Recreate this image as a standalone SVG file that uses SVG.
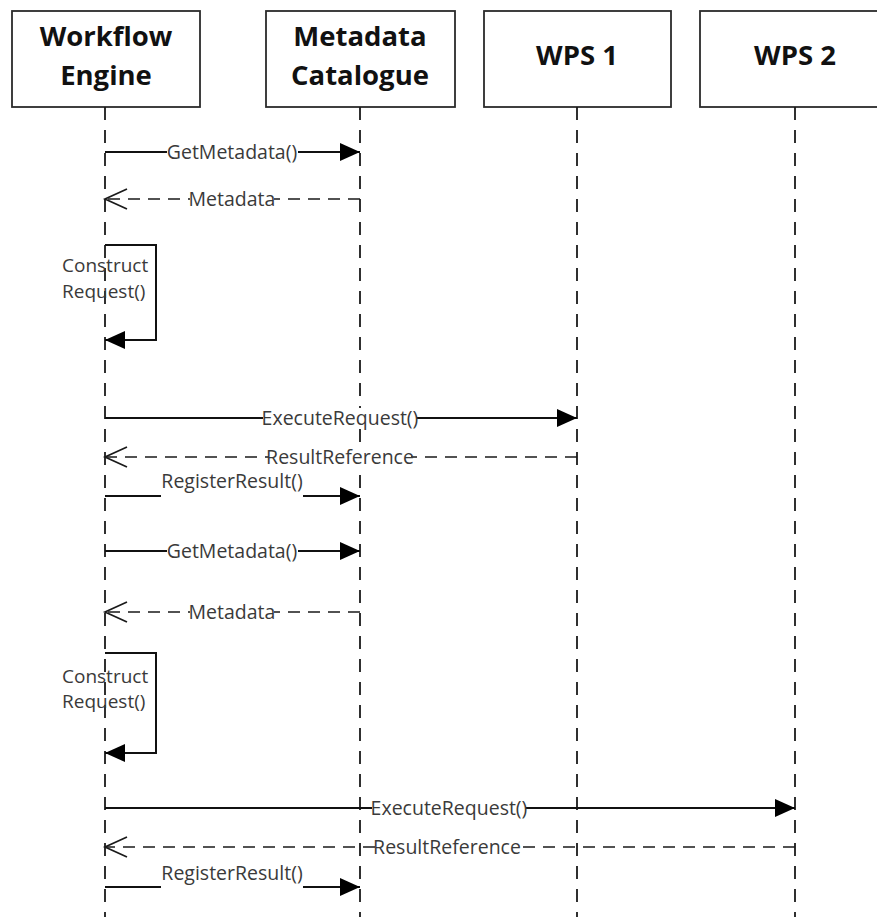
<svg xmlns="http://www.w3.org/2000/svg" width="877" height="917" viewBox="0 0 877 917">
<style>
.box{fill:#fff;stroke:#2b2b2b;stroke-width:1.8}
.life{stroke:#1a1a1a;stroke-width:1.8;stroke-dasharray:13 10;fill:none}
.hdr{font-family:"Open Sans","Noto Sans",sans-serif;font-weight:bold;font-size:27.5px;fill:#111;text-anchor:middle}
.msg{stroke:#111;stroke-width:2;fill:none}
.ret{stroke:#1a1a1a;stroke-width:1.7;fill:none;stroke-dasharray:12 8}
.lblbg{fill:#fff}
.lbl{font-family:"Open Sans","Noto Sans",sans-serif;font-size:19.5px;fill:#3a3a3a;text-anchor:middle}
.lbll{font-family:"Open Sans","Noto Sans",sans-serif;font-size:19px;fill:#3a3a3a}
</style>
<defs>
<marker id="filled" markerUnits="userSpaceOnUse" markerWidth="21" markerHeight="18" refX="20" refY="9" orient="auto" overflow="visible">
<path d="M0,0 L20,9 L0,18 z" fill="#000"/>
</marker>
<marker id="open" markerUnits="userSpaceOnUse" markerWidth="24" markerHeight="22" refX="22" refY="10" orient="auto" overflow="visible">
<path d="M0,0 L22,10 L0,20" fill="none" stroke="#1a1a1a" stroke-width="1.7"/>
</marker>
</defs>
<rect width="877" height="917" fill="#fff"/>
<g id="workflow-engine">
<rect class="box" x="12" y="11" width="188" height="96"/>
<text class="hdr" x="106" y="46">Workflow</text>
<text class="hdr" x="106" y="85">Engine</text>
<line class="life" x1="105" y1="107" x2="105" y2="917"/>
</g>
<g id="metadata-catalogue">
<rect class="box" x="266" y="11" width="189" height="96"/>
<text class="hdr" x="360" y="46">Metadata</text>
<text class="hdr" x="360" y="85">Catalogue</text>
<line class="life" x1="360" y1="107" x2="360" y2="917"/>
</g>
<g id="wps1">
<rect class="box" x="484" y="11" width="187" height="96"/>
<text class="hdr" x="577" y="65">WPS 1</text>
<line class="life" x1="577" y1="107" x2="577" y2="917"/>
</g>
<g id="wps2">
<rect class="box" x="700" y="11" width="190" height="96"/>
<text class="hdr" x="795" y="65">WPS 2</text>
<line class="life" x1="795" y1="107" x2="795" y2="917"/>
</g>
<g id="connectors">
<line class="msg" x1="105" y1="152" x2="360" y2="152" marker-end="url(#filled)"/>
<line class="ret" x1="360" y1="199" x2="105" y2="199" marker-end="url(#open)"/>
<path class="msg" d="M105,245 H156 V340 H105" marker-end="url(#filled)"/>
<line class="msg" x1="105" y1="418" x2="577" y2="418" marker-end="url(#filled)"/>
<line class="ret" x1="577" y1="457" x2="105" y2="457" marker-end="url(#open)"/>
<line class="msg" x1="105" y1="496" x2="360" y2="496" marker-end="url(#filled)"/>
<line class="msg" x1="105" y1="551" x2="360" y2="551" marker-end="url(#filled)"/>
<line class="ret" x1="360" y1="612" x2="105" y2="612" marker-end="url(#open)"/>
<path class="msg" d="M105,653 H156 V753 H105" marker-end="url(#filled)"/>
<line class="msg" x1="105" y1="808" x2="795" y2="808" marker-end="url(#filled)"/>
<line class="ret" x1="795" y1="847" x2="105" y2="847" marker-end="url(#open)"/>
<line class="msg" x1="105" y1="887" x2="360" y2="887" marker-end="url(#filled)"/>

<rect class="lblbg" x="167" y="142" width="131" height="20"/>
<text class="lbl" x="232" y="159">GetMetadata()</text>
<rect class="lblbg" x="190" y="189" width="84" height="20"/>
<text class="lbl" x="232" y="206">Metadata</text>
<text class="lbll" x="62" y="272">Construct</text>
<text class="lbll" x="62" y="298">Request()</text>
<rect class="lblbg" x="263" y="408" width="154" height="20"/>
<text class="lbl" x="340" y="425">ExecuteRequest()</text>
<rect class="lblbg" x="269" y="447" width="142" height="20"/>
<text class="lbl" x="340" y="464">ResultReference</text>
<rect class="lblbg" x="161" y="471" width="142" height="29"/>
<text class="lbl" x="232" y="488">RegisterResult()</text>
<rect class="lblbg" x="167" y="541" width="131" height="20"/>
<text class="lbl" x="232" y="558">GetMetadata()</text>
<rect class="lblbg" x="190" y="602" width="84" height="20"/>
<text class="lbl" x="232" y="619">Metadata</text>
<text class="lbll" x="62" y="683">Construct</text>
<text class="lbll" x="62" y="708">Request()</text>
<rect class="lblbg" x="372" y="798" width="154" height="20"/>
<text class="lbl" x="449" y="815">ExecuteRequest()</text>
<rect class="lblbg" x="376" y="837" width="142" height="20"/>
<text class="lbl" x="447" y="854">ResultReference</text>
<rect class="lblbg" x="161" y="862" width="142" height="29"/>
<text class="lbl" x="232" y="880">RegisterResult()</text>
</g>
</svg>
